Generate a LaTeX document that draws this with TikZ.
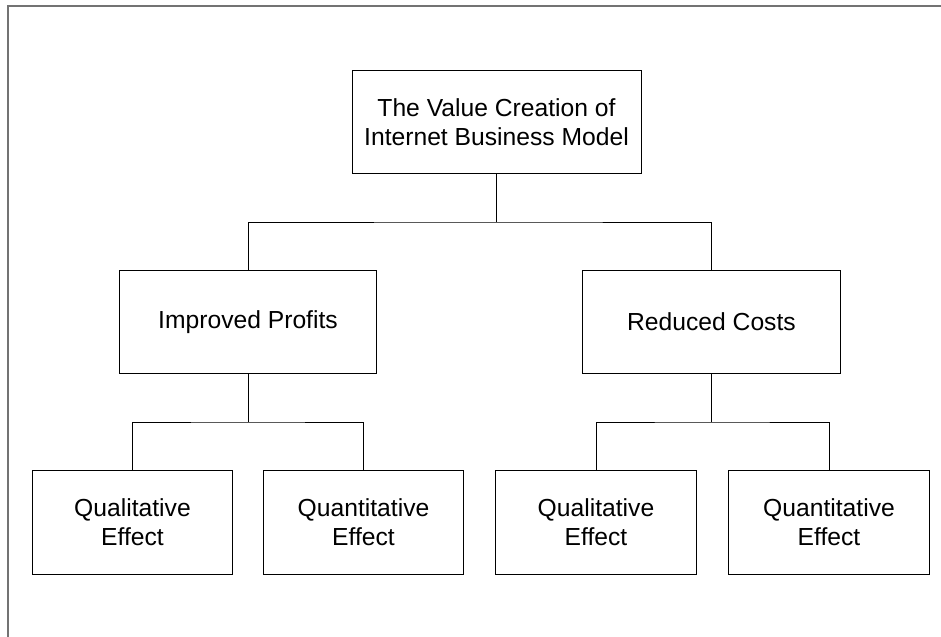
\documentclass[tikz,border=0pt]{standalone}
\usepackage{fontspec}
\setmainfont{Liberation Sans}
\usetikzlibrary{positioning,calc}

\begin{document}
\begin{tikzpicture}[x=0.0265cm,y=-0.0265cm,
    box/.style={draw,line width=0.75pt,inner sep=0pt,align=center,
                font=\fontsize{18.6pt}{21.8pt}\selectfont},
    topbox/.style={box,minimum width=7.66cm,minimum height=2.756cm},
    midbox/.style={box,minimum width=6.837cm,minimum height=2.756cm},
    effbox/.style={box,minimum width=5.327cm,minimum height=2.78cm},
    link/.style={line width=0.75pt},
    frame/.style={draw=black!55,line width=1.1pt}]
   \useasboundingbox (0,0) rectangle (941,637);
   % frame
   \draw[frame] (941,6) -- (8,6) -- (8,637);
   % nodes
   \node [topbox] (top)  at (496.5,122) {The Value Creation of\\Internet Business Model};
   \node [midbox] (prof) at (248,322)   {Improved Profits};
   \node [midbox] (cost) at (711.5,322) {Reduced Costs};
   \node [effbox] (ql1)  at (132.5,522.5) {Qualitative\\Effect};
   \node [effbox] (qn1)  at (363.5,522.5) {Quantitative\\Effect};
   \node [effbox] (ql2)  at (596,522.5)   {Qualitative\\Effect};
   \node [effbox] (qn2)  at (829,522.5)   {Quantitative\\Effect};
   % junctions
   \coordinate (tbar) at (top.south |- 0,222);
   \coordinate (pbar) at (prof.south |- 0,422);
   \coordinate (cbar) at (cost.south |- 0,422);
   \draw[link] (top.south) -- (tbar);
   \draw[link] (prof.north) |- (tbar) -| (cost.north);
   \draw[link] (prof.south) -- (pbar);
   \draw[link] (ql1.north) |- (pbar) -| (qn1.north);
   \draw[link] (cost.south) -- (cbar);
   \draw[link] (ql2.north) |- (cbar) -| (qn2.north);
\end{tikzpicture}
\end{document}
